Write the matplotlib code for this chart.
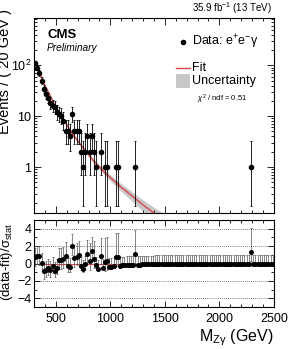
import numpy as np
import matplotlib
matplotlib.use('Agg')
import matplotlib.pyplot as plt
from matplotlib.ticker import MultipleLocator, FixedLocator, FixedFormatter

plt.rcParams['font.family'] = ['Liberation Sans', 'DejaVu Sans']
plt.rcParams['mathtext.fontset'] = 'custom'
plt.rcParams['mathtext.rm'] = 'Liberation Sans'
plt.rcParams['mathtext.it'] = 'Liberation Sans:italic'
plt.rcParams['mathtext.bf'] = 'Liberation Sans:bold'

## Data: 20 GeV bins from 300 to 2500 GeV
bin_centers = np.arange(310, 2500, 20)
counts = [112, 90, 70, 50, 34, 27, 23, 18, 16, 15,
          12, 11, 10, 8, 5, 5, 4, 11, 5, 5,
          5, 2, 1, 2, 4, 2, 4, 2, 1, 0,
          2, 0, 1, 1, 0, 0, 0, 1, 1, 0,
          0, 0, 0, 0, 0, 0, 1, 0, 0, 0] + [0] * 60
counts[99] = 1

pulls = [0.7, 0.9, 0.85, 0.1, -0.9, -0.7, -0.5, -0.7, -0.3, -0.8,
         -0.5, 0.4, 0.4, 0.5, 0.9, -0.3, -0.4, 2.0, 0.6, 0.8,
         1.0, -0.3, -0.6, -0.1, 1.1, 0.3, 1.4, 0.5, -0.2, -0.6,
         0.9, -0.5, 0.2, 0.3, -0.4, -0.35, -0.3, 0.7, 0.75, -0.25,
         -0.22, -0.2, -0.18, -0.17, -0.15, -0.14, 1.05, -0.12, -0.11, -0.1,
         -0.1, -0.09, -0.09, -0.08, -0.08, -0.07, -0.07, -0.07, -0.06, -0.06,
         -0.06, -0.06, -0.05, -0.05, -0.05, -0.05, -0.05, -0.05, -0.05, -0.05,
         -0.05, -0.05, -0.05, -0.05, -0.05, -0.05, -0.05, -0.05, -0.05, -0.05,
         -0.05, -0.05, -0.05, -0.05, -0.05, -0.05, -0.05, -0.05, -0.05, -0.05,
         -0.05, -0.05, -0.05, -0.05, -0.05, -0.05, -0.05, -0.05, -0.05, 1.3,
         -0.05, -0.05, -0.05, -0.05, -0.05, -0.05, -0.05, -0.05, -0.05, -0.05]

## Fit curve
fit_mass = [300, 350, 400, 450, 500, 550, 600, 650, 700, 750, 800, 850, 900,
            950, 1000, 1050, 1100, 1150, 1200, 1250, 1300, 1350, 1400, 1450, 1500]
fit_val = [122, 70, 40, 25, 15, 9.8, 6.8, 4.6, 3.3, 2.4, 1.75, 1.3, 1.0,
           0.78, 0.62, 0.5, 0.4, 0.33, 0.27, 0.22, 0.18, 0.15, 0.125, 0.105, 0.09]
unc_frac = [0.04, 0.04, 0.04, 0.04, 0.04, 0.05, 0.05, 0.06, 0.07, 0.08, 0.09, 0.1, 0.11,
            0.12, 0.14, 0.15, 0.17, 0.19, 0.21, 0.23, 0.25, 0.27, 0.29, 0.31, 0.33]

ytick_vals = [1, 10, 100]
ytick_labels = ['1', '10', '$10^{2}$']
rtick_vals = [-4, -2, 0, 2, 4]
xtick_vals = [500, 1000, 1500, 2000, 2500]

counts = np.array(counts, dtype=float)
pulls = np.array(pulls)


## Garwood-like poisson errors (Wilson-Hilferty approximation)
def poisson_err(n):
    lo = np.zeros_like(n)
    nz = n > 0
    lo[nz] = n[nz] - n[nz] * (1 - 1 / (9 * n[nz]) - 1 / (3 * np.sqrt(n[nz]))) ** 3
    m = n + 1
    hi = m * (1 - 1 / (9 * m) + 1 / (3 * np.sqrt(m))) ** 3 - n
    return lo, hi


err_lo, err_hi = poisson_err(counts)

fig = plt.figure(figsize=(2.88, 3.49), dpi=100)
ax = fig.add_axes([0.118, 0.3897, 0.833, 0.5587])
axr = fig.add_axes([0.118, 0.1203, 0.833, 0.249])

## Top panel
fit_mass = np.array(fit_mass)
fit_val = np.array(fit_val)
unc_frac = np.array(unc_frac)
ax.fill_between(fit_mass, fit_val * (1 - unc_frac), fit_val * (1 + unc_frac),
                color='#c8c8c8', lw=0, zorder=1)
ax.plot(fit_mass, fit_val, color='#d9474a', lw=1.0, zorder=2)

sel = counts > 0
ax.errorbar(bin_centers[sel], counts[sel], yerr=[err_lo[sel], err_hi[sel]],
            fmt='o', color='black', ms=3, elinewidth=0.6, capsize=1.0, capthick=0.6, zorder=3)

ax.set_yscale('log')
ax.set_xlim(300, 2500)
ax.set_ylim(0.125, 850)
ax.yaxis.set_major_locator(FixedLocator(ytick_vals))
ax.yaxis.set_major_formatter(FixedFormatter(ytick_labels))
ax.xaxis.set_major_locator(MultipleLocator(500))
ax.xaxis.set_minor_locator(MultipleLocator(100))
ax.tick_params(axis='x', labelbottom=False)
ax.tick_params(which='both', direction='in', top=True, right=True, width=0.6)
ax.tick_params(which='major', length=5, labelsize=9, pad=2)
ax.tick_params(which='minor', length=2.5)
fig.text(5.5 / 288, 1 - 9 / 349, 'Events / ( 20 GeV )', fontsize=10.5, rotation=90,
         ha='center', va='top')

ax.text(0.055, 0.915, 'CMS', transform=ax.transAxes, fontsize=9.5, fontweight='bold', va='center')
ax.text(0.055, 0.845, 'Preliminary', transform=ax.transAxes, fontsize=7.3, style='italic', va='center')
fig.text(0.945, 0.978, '35.9 fb$^{-1}$ (13 TeV)', fontsize=7, ha='right', va='center')

## legend drawn by hand
ax.plot([0.62], [0.877], 'o', color='black', ms=3, transform=ax.transAxes)
ax.text(0.66, 0.877, 'Data: e$^{+}$e$^{-}$γ', transform=ax.transAxes, fontsize=9, va='center')
ax.plot([0.59, 0.65], [0.742, 0.742], color='#d9474a', lw=1.0, transform=ax.transAxes)
ax.text(0.66, 0.742, 'Fit', transform=ax.transAxes, fontsize=9, va='center')
ax.add_patch(plt.Rectangle((0.59, 0.642), 0.06, 0.07, color='#c8c8c8', transform=ax.transAxes, lw=0))
ax.text(0.66, 0.677, 'Uncertainty', transform=ax.transAxes, fontsize=9, va='center')
ax.text(0.68, 0.585, '$\\chi^{2}$ / ndf = 0.51', transform=ax.transAxes, fontsize=5.5, va='center')

for sp in ax.spines.values():
    sp.set_linewidth(0.8)

## Ratio panel
r_lo = np.where(pulls >= 0, 1.0, np.where(err_hi > 0, err_lo / err_hi, 0))
r_hi = np.where(pulls >= 0, np.where(err_lo > 0, err_hi / np.maximum(err_lo, 1e-9), 1.0), 1.0)
for yv in rtick_vals:
    axr.axhline(yv, color='black', lw=0.5, ls=(0, (1, 2)), zorder=0)
axr.axhline(0, color='#d9474a', lw=0.8, zorder=1)
axr.errorbar(bin_centers, pulls, yerr=[r_lo, r_hi], fmt='o', color='black', ms=2.6,
             elinewidth=0.5, ecolor='#555555', capsize=1.0, capthick=0.5, zorder=3)
axr.set_xlim(300, 2500)
axr.set_ylim(-5, 5)
axr.xaxis.set_major_locator(FixedLocator(xtick_vals))
axr.xaxis.set_minor_locator(MultipleLocator(100))
axr.yaxis.set_major_locator(FixedLocator(rtick_vals))
axr.yaxis.set_minor_locator(MultipleLocator(1))
axr.tick_params(which='both', direction='in', top=True, right=True, width=0.6)
axr.tick_params(which='major', length=4, labelsize=9, pad=2)
axr.tick_params(axis='x', which='major', pad=4)
axr.tick_params(which='minor', length=2)
axr.set_xlabel('M$_{\\mathrm{Zγ}}$ (GeV)', fontsize=11.5, loc='right', labelpad=2)
fig.text(7.5 / 288, 1 - 262 / 349, '(data-fit)/σ$_{\\mathrm{stat}}$', fontsize=9.5, rotation=90,
         ha='center', va='center')
for sp in axr.spines.values():
    sp.set_linewidth(0.8)

fig.savefig('out.png', dpi=100)
